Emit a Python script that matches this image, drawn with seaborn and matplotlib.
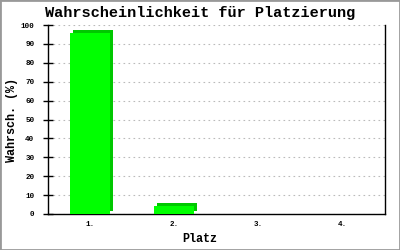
import matplotlib
matplotlib.use("Agg")
import matplotlib.pyplot as plt
import matplotlib.transforms as mtransforms
from matplotlib.patches import Rectangle
import seaborn as sns
import pandas as pd

# Data
categories = ["1.", "2.", "3.", "4."]
values = [96, 4, 0, 0]
yticks = [0, 10, 20, 30, 40, 50, 60, 70, 80, 90, 100]

title = "Wahrscheinlichkeit für Platzierung"
xlabel = "Platz"
ylabel = "Wahrsch. (%)"

sns.set_theme(style="white")
plt.rcParams["font.family"] = ["Liberation Mono", "DejaVu Sans Mono"]
plt.rcParams["text.color"] = "black"
plt.rcParams["axes.labelcolor"] = "black"
plt.rcParams["xtick.color"] = "black"
plt.rcParams["ytick.color"] = "black"

df = pd.DataFrame({"Platz": categories, "Wert": values})

fig = plt.figure(figsize=(4, 2.5), dpi=100)
ax = fig.add_axes([48 / 400, 36 / 250, 337 / 400, 189 / 250])

# depth (shadow) bars
sns.barplot(data=df, x="Platz", y="Wert", color="#00c800", saturation=1,
            width=0.475, linewidth=0, ax=ax, zorder=2)
n_back = len(ax.patches)
off = mtransforms.ScaledTranslation(3 / 100, 3 / 100, fig.dpi_scale_trans)
for p in ax.patches[:n_back]:
    p.set_transform(ax.transData + off)

# front bars
sns.barplot(data=df, x="Platz", y="Wert", color="#00ff00", saturation=1,
            width=0.475, linewidth=0, ax=ax, zorder=3)

ax.set_ylim(0, 100)
ax.set_xlim(-0.5, len(categories) - 0.5)
ax.set_yticks(yticks)
ax.yaxis.grid(True, color="#bbbbbb", linestyle=(0, (1.5, 3)), linewidth=0.8)
ax.set_axisbelow(True)

for s in ["left", "bottom", "right"]:
    ax.spines[s].set_visible(True)
    ax.spines[s].set_color("black")
    ax.spines[s].set_linewidth(1.0)
ax.spines["top"].set_visible(False)

ax.tick_params(axis="y", direction="inout", length=7.5, width=1, color="black",
               labelcolor="black", pad=6, labelsize=5.5, left=True)
ax.tick_params(axis="x", length=0, pad=5, labelsize=5.5, labelcolor="black")
for lab in ax.get_xticklabels() + ax.get_yticklabels():
    lab.set_fontweight("bold")

ax.set_xlabel(xlabel, fontsize=8.5, fontweight="bold", color="black")
ax.set_ylabel(ylabel, fontsize=8.5, fontweight="bold", color="black")
ax.xaxis.set_label_coords(0.5 + (200 - 216.5) / 337, (214 - 239) / 189)
ax.xaxis.label.set_va("center")
ax.yaxis.set_label_coords((12 - 48) / 337, 0.5)
ax.yaxis.label.set_va("center")

fig.text(0.5, 1 - 13 / 250, title, ha="center", va="center",
         fontsize=11, fontweight="bold", color="black")

fig.patches.append(Rectangle((0, 0), 1, 1, transform=fig.transFigure,
                             fill=False, edgecolor="#999999", linewidth=2,
                             zorder=10))

fig.savefig("out.png", dpi=100, facecolor="white")
